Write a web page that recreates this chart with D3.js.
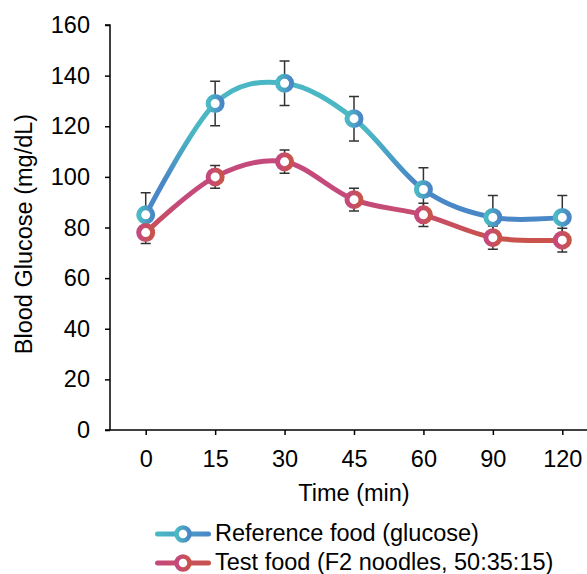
<!DOCTYPE html>
<html>
<head>
<meta charset="utf-8">
<script src="https://cdn.jsdelivr.net/npm/d3@7"></script>
<style>
  body { margin: 0; background: #fff; }
  svg { font-family: "Liberation Sans", Arial, sans-serif; }
</style>
</head>
<body>
<div id="chart"></div>
<script>
// data
const times = ['0', '15', '30', '45', '60', '90', '120'];
const refMean = [85, 129, 137, 123, 95, 84, 84];
const refSd = [8.7, 8.8, 8.8, 8.8, 8.6, 8.6, 8.6];
const testMean = [78, 100, 106, 91, 85, 76, 75];
const testSd = [4.3, 4.5, 4.6, 4.5, 4.6, 4.6, 4.7];
const yTicks = [0, 20, 40, 60, 80, 100, 120, 140, 160];
const seriesNames = ['Reference food (glucose)', 'Test food (F2 noodles, 50:35:15)'];

const width = 587, height = 574;
const margin = { top: 25, left: 110, right: -10, bottom: 144 };
const fontSize = 23.5;

const svg = d3.select('#chart').append('svg')
  .attr('width', width)
  .attr('height', height);

const defs = svg.append('defs');

const x = d3.scalePoint()
  .domain(times)
  .range([margin.left + 1, width - margin.right])
  .padding(0.5);

const y = d3.scaleLinear()
  .domain([0, 160])
  .range([height - margin.bottom, margin.top]);

// gradients
function vGrad(id, top, bottom, v1, v2) {
  const g = defs.append('linearGradient')
    .attr('id', id)
    .attr('gradientUnits', 'userSpaceOnUse')
    .attr('x1', 0).attr('x2', 0)
    .attr('y1', y(v1)).attr('y2', y(v2));
  g.append('stop').attr('offset', 0).attr('stop-color', top);
  g.append('stop').attr('offset', 1).attr('stop-color', bottom);
}
function hGrad(id, left, right) {
  const g = defs.append('linearGradient')
    .attr('id', id)
    .attr('x1', 0).attr('x2', 1).attr('y1', 0).attr('y2', 0);
  g.append('stop').attr('offset', 0).attr('stop-color', left);
  g.append('stop').attr('offset', 1).attr('stop-color', right);
}
vGrad('refLine', '#4bb7c4', '#4a87c6', 118, 98);
vGrad('testLine', '#c44a7c', '#c9524c', 90, 76);
hGrad('refMark', '#4bbac4', '#4a86c6');
hGrad('testMark', '#c4497e', '#c9544a');

const series = [
  { name: seriesNames[0], mean: refMean, sd: refSd, line: 'url(#refLine)', mark: 'url(#refMark)' },
  { name: seriesNames[1], mean: testMean, sd: testSd, line: 'url(#testLine)', mark: 'url(#testMark)' }
];

// axes
const yAxis = svg.append('g')
  .attr('transform', `translate(${margin.left},0)`)
  .call(d3.axisLeft(y).tickValues(yTicks).tickSize(5).tickPadding(15));
yAxis.select('.domain').attr('d', `M-5,${y(160)}H0V${y(0)}`).attr('stroke-width', 1.5);
yAxis.selectAll('.tick line').attr('stroke-width', 1.5);
yAxis.selectAll('text').attr('font-size', fontSize).attr('fill', '#000');

const xAxis = svg.append('g')
  .attr('transform', `translate(0,${y(0)})`)
  .call(d3.axisBottom(x).tickSize(5).tickPadding(15));
xAxis.select('.domain').attr('d', `M${margin.left - 5},0H${width}`).attr('stroke-width', 1.5);
xAxis.selectAll('.tick line').attr('stroke-width', 1.5);
xAxis.selectAll('text').attr('font-size', fontSize).attr('fill', '#000');

svg.append('text')
  .attr('x', x('45'))
  .attr('y', 501)
  .attr('text-anchor', 'middle')
  .attr('font-size', fontSize)
  .text('Time (min)');

svg.append('text')
  .attr('transform', `translate(32,234) rotate(-90)`)
  .attr('text-anchor', 'middle')
  .attr('font-size', fontSize)
  .text('Blood Glucose (mg/dL)');

// error bars (behind lines)
const err = svg.append('g').attr('stroke', '#333').attr('stroke-width', 1.5);
series.forEach(s => {
  times.forEach((t, i) => {
    const cx = x(t), hi = y(s.mean[i] + s.sd[i]), lo = y(s.mean[i] - s.sd[i]);
    err.append('path')
      .attr('fill', 'none')
      .attr('d', `M${cx},${hi}V${lo}M${cx - 5},${hi}H${cx + 5}M${cx - 5},${lo}H${cx + 5}`);
  });
});

// lines
const line = d3.line()
  .x((d, i) => x(times[i]))
  .y(d => y(d))
  .curve(d3.curveCatmullRom.alpha(0));

series.forEach(s => {
  svg.append('path')
    .datum(s.mean)
    .attr('fill', 'none')
    .attr('stroke', s.line)
    .attr('stroke-width', 5)
    .attr('stroke-linecap', 'round')
    .attr('d', line);
});

series.forEach(s => {
  svg.append('g').selectAll('circle')
    .data(s.mean)
    .enter()
    .append('circle')
    .attr('cx', (d, i) => x(times[i]))
    .attr('cy', d => y(d))
    .attr('r', 7)
    .attr('fill', '#fff')
    .attr('stroke', s.mark)
    .attr('stroke-width', 5);
});

// legend
const legend = svg.append('g');
series.forEach((s, i) => {
  const ly = 534 + i * 29;
  legend.append('rect')
    .attr('x', 155).attr('y', ly - 2.5)
    .attr('width', 56).attr('height', 5)
    .attr('rx', 2.5)
    .attr('fill', s.mark);
  legend.append('circle')
    .attr('cx', 183).attr('cy', ly)
    .attr('r', 6.5)
    .attr('fill', '#fff')
    .attr('stroke', s.mark)
    .attr('stroke-width', 4.5);
  legend.append('text')
    .attr('x', 215).attr('y', ly + 7)
    .attr('font-size', fontSize)
    .text(s.name);
});
</script>
</body>
</html>
